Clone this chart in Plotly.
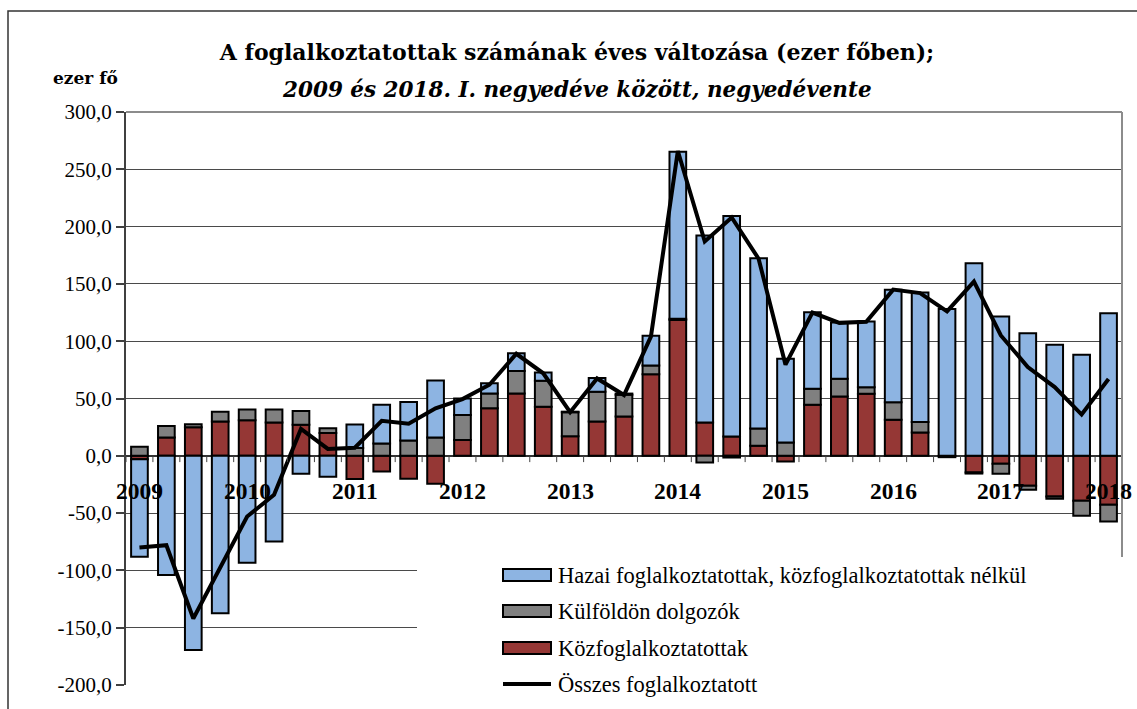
import plotly.graph_objects as go

years = ["2009", "2010", "2011", "2012", "2013", "2014", "2015", "2016", "2017", "2018"]
roman = ["I.", "II.", "III.", "IV."]
quarters = [f"{y} {q}" for y in years for q in roman][:37]

kozfoglalkoztatottak = [-3, 16, 25, 30, 31, 29, 27, 20,
                        -20.3, -13.7, -20, -24.4,
                        13.7, 41.6, 54.4, 42.7,
                        17, 30, 34.3, 71.2,
                        118.6, 29.1, 16.9, 8.7,
                        -4.9, 44.5, 51.7, 54.1,
                        31.4, 20.3, -1.2, -14.5,
                        -7, -26.2, -35.5, -39.2,
                        -42.7]
kulfoldon = [8, 10, 2.5, 8.5, 9.5, 11.5, 12, 4,
             6.7, 10.7, 13.4, 16,
             21.8, 12.8, 19.7, 22.7,
             21, 25.8, 19, 7.6,
             1, -5.8, -1.5, 15.1,
             11.6, 13.9, 15.5, 5.8,
             15.4, 9.1, 0, -1,
             -8.7, -3.5, -2, -13.1,
             -14.6]
hazai = [-85, -104, -169.5, -137.5, -93.3, -74.7, -15.7, -18.3,
         20.6, 33.8, 33.6, 49.6,
         14.5, 9, 15.4, 7.3,
         0.5, 12, 1, 26,
         145.8, 163.1, 192.4, 148.6,
         73, 66.9, 49.1, 57.3,
         98, 113, 128.2, 168,
         121.5, 107, 96.8, 88.1,
         124.4]
osszes = [-80, -78, -142, -98, -53, -34, 23.5, 6,
          7, 30.5, 28, 41.5,
          49.5, 62, 89, 72,
          38, 67.5, 53, 104,
          266, 187, 208, 172,
          79.5, 125, 116, 117,
          145, 142, 126, 152,
          105, 77.5, 60, 36,
          67]

y_ticks = [-200, -150, -100, -50, 0, 50, 100, 150, 200, 250, 300]

series_names = ["Hazai foglalkoztatottak, közfoglalkoztatottak nélkül",
                "Külföldön dolgozók",
                "Közfoglalkoztatottak",
                "Összes foglalkoztatott"]

BLUE = "#8DB4E2"
GRAY = "#808080"
RED = "#953735"
FONT = "Liberation Serif, Times New Roman, serif"
WIDE = "DejaVu Serif, serif"

W, H = 1137, 709
ML, MR, MT, MB = 126, 15, 112, 24
PW, PH = W - ML - MR, H - MT - MB


def px_x(p):
    return (p - ML) / PW


def px_y(p):
    return (H - MB - p) / PH


fig = go.Figure()
bar_line = dict(color="black", width=2)
fig.add_trace(go.Bar(x=quarters, y=kozfoglalkoztatottak, name=series_names[2],
                     marker=dict(color=RED, line=bar_line), showlegend=False))
fig.add_trace(go.Bar(x=quarters, y=kulfoldon, name=series_names[1],
                     marker=dict(color=GRAY, line=bar_line), showlegend=False))
fig.add_trace(go.Bar(x=quarters, y=hazai, name=series_names[0],
                     marker=dict(color=BLUE, line=bar_line), showlegend=False))
fig.add_trace(go.Scatter(x=quarters, y=osszes, name=series_names[3], mode="lines",
                         line=dict(color="black", width=4), showlegend=False))

shapes = []
# outer chart border
shapes.append(dict(type="rect", xref="paper", yref="paper",
                   x0=px_x(8), x1=px_x(1150), y0=px_y(730), y1=px_y(11),
                   line=dict(color="#333333", width=1.5), fillcolor="rgba(0,0,0,0)", layer="below"))
# tick marks on the zero line
for b in range(len(quarters) + 1):
    shapes.append(dict(type="line", xref="x", yref="y", x0=b - 0.5, x1=b - 0.5,
                       y0=0, y1=-5.5, line=dict(color="#404040", width=1)))
# white legend area
shapes.append(dict(type="rect", xref="paper", yref="paper",
                   x0=px_x(417), x1=px_x(1130), y0=px_y(730), y1=px_y(557),
                   line=dict(width=0), fillcolor="white", layer="above"))
# plot-area frame (top and right)
shapes.append(dict(type="line", xref="paper", yref="paper", x0=0, x1=1, y0=1, y1=1,
                   line=dict(color="#8c8c8c", width=2)))
shapes.append(dict(type="line", xref="paper", yref="paper", x0=1, x1=1, y0=px_y(557), y1=1,
                   line=dict(color="#8c8c8c", width=2)))

# custom legend
legend_y = [575, 611, 648, 684]
colors = [BLUE, GRAY, RED]
for i in range(3):
    shapes.append(dict(type="rect", xref="paper", yref="paper",
                       x0=px_x(503), x1=px_x(551),
                       y0=px_y(legend_y[i] + 6), y1=px_y(legend_y[i] - 6),
                       line=dict(color="black", width=2), fillcolor=colors[i], layer="above"))
shapes.append(dict(type="line", xref="paper", yref="paper",
                   x0=px_x(503), x1=px_x(551), y0=px_y(legend_y[3]), y1=px_y(legend_y[3]),
                   line=dict(color="black", width=4), layer="above"))

annotations = []
for i in range(4):
    annotations.append(dict(xref="paper", yref="paper", x=px_x(556), y=px_y(legend_y[i]),
                            xanchor="left", yanchor="middle", showarrow=False,
                            text=series_names[i], font=dict(family=FONT, size=22.5, color="black")))
for k, y in enumerate(years):
    annotations.append(dict(xref="x", yref="y", x=quarters[4 * k], y=-30.5,
                            xanchor="center", yanchor="middle", showarrow=False,
                            text=f"<b>{y}</b>", font=dict(family=FONT, size=23.5, color="black")))
annotations.append(dict(xref="paper", yref="paper", x=px_x(85), y=px_y(78),
                        xanchor="center", yanchor="middle", showarrow=False,
                        text="<b>ezer fő</b>", font=dict(family=WIDE, size=17, color="black")))
annotations.append(dict(xref="paper", yref="paper", x=px_x(577), y=px_y(90),
                        xanchor="center", yanchor="middle", showarrow=False,
                        text="<b><i>2009 és 2018. I. negyedéve között, negyedévente</i></b>",
                        font=dict(family=WIDE, size=21.5, color="black")))

fig.update_layout(
    width=W, height=H,
    margin=dict(l=ML, r=MR, t=MT, b=MB, pad=0),
    paper_bgcolor="white", plot_bgcolor="white",
    barmode="relative", bargap=0.38,
    title=dict(text="<b>A foglalkoztatottak számának éves változása (ezer főben);</b>",
               xref="paper", yref="container", x=px_x(577), y=1 - 52 / H,
               xanchor="center", yanchor="middle",
               font=dict(family=WIDE, size=22, color="black")),
    xaxis=dict(type="category", range=[-0.5, len(quarters) - 0.5],
               showticklabels=False, showgrid=False, zeroline=False, showline=False, ticks=""),
    yaxis=dict(range=[-200, 300], tickvals=y_ticks,
               ticktext=[f"{v:.1f}".replace(".", ",") for v in y_ticks],
               showgrid=True, gridcolor="#4a4a4a", gridwidth=1,
               zeroline=True, zerolinecolor="#333333", zerolinewidth=1.5,
               showline=True, linecolor="#404040", linewidth=2,
               ticks="outside", ticklen=8, tickcolor="#404040", tickwidth=1.5,
               tickfont=dict(family=FONT, size=21, color="black")),
    shapes=shapes,
    annotations=annotations,
)

fig.write_html("out.html", config={"displayModeBar": False},
               post_script="document.body.style.margin='0';document.body.style.overflow='hidden';")
